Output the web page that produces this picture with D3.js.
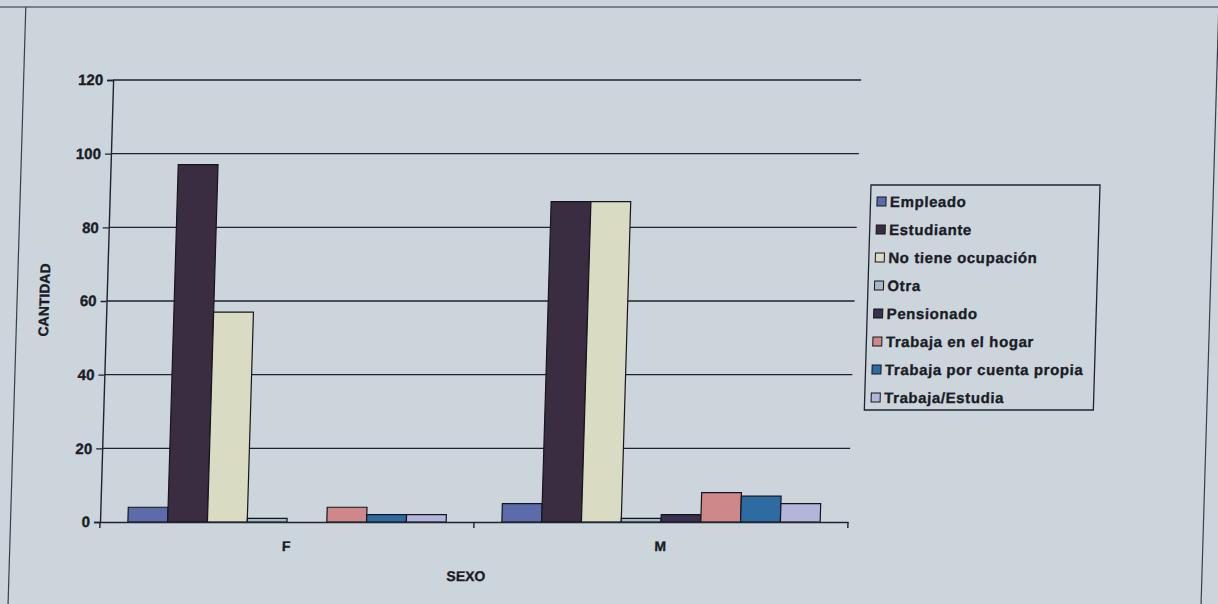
<!DOCTYPE html>
<html>
<head>
<meta charset="utf-8">
<script src="https://cdn.jsdelivr.net/npm/d3@7"></script>
<style>
  html, body { margin: 0; padding: 0; background: #cbd3da; }
  svg { display: block; }
  text { font-family: "Liberation Sans", Arial, sans-serif; font-weight: bold; fill: #1a1c26; stroke: #1a1c26; stroke-width: 0.35px; }
</style>
</head>
<body>
<svg id="chart" width="1218" height="604"></svg>
<script>
// ---- data ----
const categories = ["F", "M"];
const seriesNames = ["Empleado", "Estudiante", "No tiene ocupación", "Otra", "Pensionado",
                     "Trabaja en el hogar", "Trabaja por cuenta propia", "Trabaja/Estudia"];
const empleado       = [4, 5];
const estudiante     = [97, 87];
const noTiene        = [57, 87];
const otra           = [1, 1];
const pensionado     = [0, 2];
const trabajaHogar   = [4, 8];
const cuentaPropia   = [2, 7];
const trabajaEstudia = [2, 5];
const yTicks = [0, 20, 40, 60, 80, 100, 120];
const seriesColors = ["#5c6cab", "#3a2d42", "#d9dcc2", "#a6b8c8", "#392f4e",
                      "#cf8889", "#2e6ba3", "#b3b6da"];
const seriesValues = [empleado, estudiante, noTiene, otra, pensionado, trabajaHogar, cuentaPropia, trabajaEstudia];

// ---- layout ----
const svg = d3.select("#chart");
svg.append("rect").attr("width", 1218).attr("height", 604).attr("fill", "#cdd5dc");

// photo is slightly skewed; reproduce with a skew transform
const g = svg.append("g").attr("transform", "skewX(-1.7)");

// outer frame
g.append("line").attr("x1", -20).attr("x2", 1240).attr("y1", 7).attr("y2", 7)
  .attr("stroke", "#2a2e38").attr("stroke-width", 1.2);
g.append("line").attr("x1", 26).attr("x2", 26).attr("y1", 7).attr("y2", 610)
  .attr("stroke", "#3a3e48").attr("stroke-width", 1.2);
g.append("line").attr("x1", 1219).attr("x2", 1219).attr("y1", 7).attr("y2", 610)
  .attr("stroke", "#3a3e48").attr("stroke-width", 1.2);

const plotLeft = 115.5, plotRight = 863.5, plotTop = 80, plotBottom = 522;

const x = d3.scaleBand().domain(categories).range([plotLeft, plotRight]).paddingInner(0).paddingOuter(0);
const xInner = d3.scaleBand().domain(seriesNames).range([0, x.bandwidth()]).paddingOuter(0.7).paddingInner(0);
const y = d3.scaleLinear().domain([0, 120]).range([plotBottom, plotTop]);

// gridlines
g.append("g").selectAll("line").data(yTicks.filter(d => d > 0)).join("line")
  .attr("x1", plotLeft).attr("x2", plotRight)
  .attr("y1", d => y(d)).attr("y2", d => y(d))
  .attr("stroke", "#1e2330").attr("stroke-width", 1.4);

// y axis
const yAxis = g.append("g").attr("transform", `translate(${plotLeft},0)`)
  .call(d3.axisLeft(y).tickValues(yTicks).tickSize(6).tickPadding(4));
yAxis.select(".domain").attr("stroke", "#1e2330").attr("stroke-width", 1.4);
yAxis.selectAll(".tick line").attr("stroke", "#1e2330").attr("stroke-width", 1.4);
yAxis.selectAll(".tick text").style("font-size", "15px").style("font-weight", "bold")
  .style("font-family", "'Liberation Sans', Arial, sans-serif").attr("fill", "#1a1c26");

// bars
const barData = [];
seriesNames.forEach((s, i) => {
  categories.forEach((c, j) => barData.push({ s, c, v: seriesValues[i][j], color: seriesColors[i] }));
});
g.append("g").selectAll("rect").data(barData.filter(d => d.v > 0)).join("rect")
  .attr("x", d => x(d.c) + xInner(d.s))
  .attr("y", d => y(d.v))
  .attr("width", xInner.bandwidth())
  .attr("height", d => y(0) - y(d.v))
  .attr("fill", d => d.color)
  .attr("stroke", "#15161c").attr("stroke-width", 1.2);

// x axis
const xAxis = g.append("g").attr("transform", `translate(0,${plotBottom})`)
  .call(d3.axisBottom(x).tickSize(0).tickPadding(19));
xAxis.select(".domain").attr("stroke", "#1e2330").attr("stroke-width", 1.6);
xAxis.selectAll(".tick text").style("font-size", "14px").style("font-weight", "bold")
  .style("font-family", "'Liberation Sans', Arial, sans-serif").attr("fill", "#1a1c26");
g.append("g").selectAll("line").data([plotLeft, plotLeft + x.bandwidth(), plotRight]).join("line")
  .attr("x1", d => d).attr("x2", d => d).attr("y1", plotBottom).attr("y2", plotBottom + 6)
  .attr("stroke", "#1e2330").attr("stroke-width", 1.4);

// axis titles
g.append("text").attr("x", 483).attr("y", 581).attr("text-anchor", "middle")
  .style("font-size", "14px").text("SEXO");
g.append("text").attr("transform", "translate(58,300) rotate(-90)").attr("text-anchor", "middle")
  .style("font-size", "14px").text("CANTIDAD");

// legend
const lg = g.append("g");
lg.append("rect").attr("x", 876.5).attr("y", 185).attr("width", 229).attr("height", 225)
  .attr("fill", "none").attr("stroke", "#1e2330").attr("stroke-width", 1.3);
const items = lg.selectAll("g.item").data(seriesNames).join("g").attr("class", "item")
  .attr("transform", (d, i) => `translate(883,${201.5 + i * 28})`);
items.append("rect").attr("x", 0).attr("y", -4.5).attr("width", 9).attr("height", 9)
  .attr("fill", (d, i) => seriesColors[i]).attr("stroke", "#15161c").attr("stroke-width", 1);
items.append("text").attr("x", 13).attr("y", 5.5).style("font-size", "15px")
  .style("letter-spacing", "0.6px").text(d => d);
</script>
</body>
</html>
